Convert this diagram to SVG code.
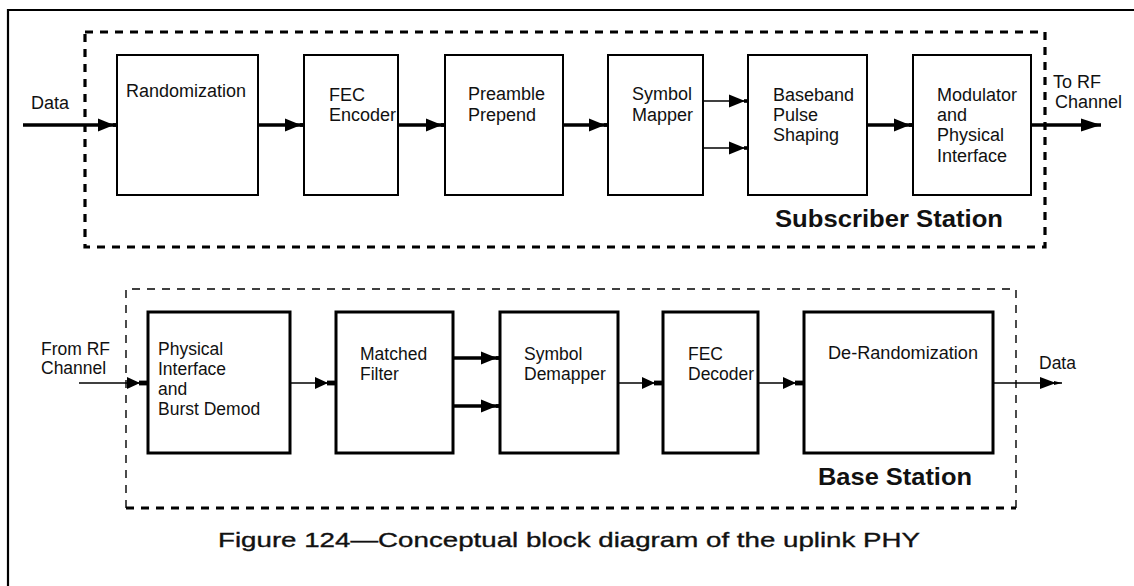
<svg xmlns="http://www.w3.org/2000/svg" width="1134" height="586" viewBox="0 0 1134 586">
  <style>
    .bg { fill: #ffffff; }
    .frame { fill: none; stroke: #000; stroke-width: 2.2; }
    .grpT { fill: none; stroke: #000; stroke-width: 3.2; stroke-dasharray: 8 7; }
    .grpThin { fill: none; stroke: #000; stroke-width: 1.4; stroke-dasharray: 8 7; }
    .grpThick { fill: none; stroke: #000; stroke-width: 3.2; stroke-dasharray: 8 7; }
    .boxT { fill: #fff; stroke: #000; stroke-width: 2; }
    .boxB { fill: #fff; stroke: #000; stroke-width: 3; }
    .lnThick { fill: none; stroke: #000; stroke-width: 3.4; }
    .lnThin { fill: none; stroke: #000; stroke-width: 1.4; }
    text { font-family: "Liberation Sans", Arial, sans-serif; fill: #111; }
    .lblT { font-size: 18px; }
    .lblB { font-size: 17.5px; }
    .station { font-size: 24px; font-weight: bold; }
    .caption { font-size: 21px; stroke: #111; stroke-width: 0.35; }
  </style>
  <defs>
    <marker id="mT" markerUnits="userSpaceOnUse" viewBox="-22 -8 24 16" markerWidth="24" markerHeight="16" refX="0" refY="0" orient="auto">
      <path d="M-19,-6.5 L-3,0 L-19,6.5 Z" fill="#000"/>
      <rect x="-4" y="-1.8" width="4" height="3.6" fill="#000"/>
    </marker>
    <marker id="mTout" markerUnits="userSpaceOnUse" viewBox="-22 -8 24 16" markerWidth="24" markerHeight="16" refX="0" refY="0" orient="auto">
      <path d="M-20,-6.5 L0,0 L-20,6.5 Z" fill="#000"/>
    </marker>
    <marker id="mB" markerUnits="userSpaceOnUse" viewBox="-24 -8 26 16" markerWidth="26" markerHeight="16" refX="0" refY="0" orient="auto">
      <path d="M-21,-6 L-8,0 L-21,6 Z" fill="#000"/>
      <rect x="-9" y="-2.4" width="9" height="4.8" fill="#000"/>
    </marker>
    <marker id="mBout" markerUnits="userSpaceOnUse" viewBox="-24 -8 26 16" markerWidth="26" markerHeight="16" refX="0" refY="0" orient="auto">
      <path d="M-22,-6 L-6,0 L-22,6 Z" fill="#000"/>
      <path d="M-8,-2 L0,0 L-8,2 Z" fill="#000"/>
    </marker>
  </defs>

  <rect class="bg" x="0" y="0" width="1134" height="586"/>
  <path class="frame" d="M8,592 V10 H1140"/>

  <!-- group boundaries -->
  <g id="subscriber-station">
    <rect class="grpT" x="85" y="32" width="960" height="215"/>
    <text class="station" x="775" y="227" textLength="228" lengthAdjust="spacingAndGlyphs">Subscriber Station</text>
  </g>
  <g id="base-station">
    <path class="grpThin" d="M126,508 V289 H1016 V508"/>
    <path class="grpThick" d="M126,508 H1016"/>
    <text class="station" x="818" y="485" textLength="154" lengthAdjust="spacingAndGlyphs">Base Station</text>
  </g>

  <!-- connectors -->
  <g id="connectors">
    <line class="lnThick" x1="23" y1="125" x2="117" y2="125" marker-end="url(#mT)"/>
    <line class="lnThick" x1="258" y1="125" x2="304" y2="125" marker-end="url(#mT)"/>
    <line class="lnThick" x1="398" y1="125" x2="445" y2="125" marker-end="url(#mT)"/>
    <line class="lnThick" x1="563" y1="125" x2="608" y2="125" marker-end="url(#mT)"/>
    <line class="lnThin" x1="703" y1="101" x2="748" y2="101" marker-end="url(#mT)"/>
    <line class="lnThin" x1="703" y1="148" x2="748" y2="148" marker-end="url(#mT)"/>
    <line class="lnThick" x1="867" y1="125" x2="913" y2="125" marker-end="url(#mT)"/>
    <line class="lnThick" x1="1031" y1="125" x2="1101" y2="125" marker-end="url(#mTout)"/>

    <line class="lnThin" x1="79" y1="383" x2="148" y2="383" marker-end="url(#mB)"/>
    <line class="lnThin" x1="290" y1="383" x2="336" y2="383" marker-end="url(#mB)"/>
    <line class="lnThick" x1="453" y1="358" x2="500" y2="358" marker-end="url(#mT)"/>
    <line class="lnThick" x1="453" y1="406" x2="500" y2="406" marker-end="url(#mT)"/>
    <line class="lnThin" x1="618" y1="383" x2="663" y2="383" marker-end="url(#mB)"/>
    <line class="lnThin" x1="758" y1="383" x2="804" y2="383" marker-end="url(#mB)"/>
    <line class="lnThin" x1="993" y1="383" x2="1062" y2="383" marker-end="url(#mBout)"/>
  </g>

  <!-- external labels -->
  <g id="label-data-in">
    <text class="lblT" x="31" y="109">Data</text>
  </g>
  <g id="label-to-rf">
    <text class="lblT" x="1053" y="88">To RF</text>
    <text class="lblT" x="1055" y="108">Channel</text>
  </g>
  <g id="label-from-rf">
    <text class="lblB" x="41" y="355">From RF</text>
    <text class="lblB" x="41" y="374">Channel</text>
  </g>
  <g id="label-data-out">
    <text class="lblB" x="1039" y="369">Data</text>
  </g>

  <!-- top row nodes -->
  <g id="randomization">
    <rect class="boxT" x="117" y="55" width="141" height="140"/>
    <text class="lblT" x="126" y="97">Randomization</text>
  </g>
  <g id="fec-encoder">
    <rect class="boxT" x="304" y="55" width="94" height="140"/>
    <text class="lblT" x="329" y="101">FEC</text>
    <text class="lblT" x="329" y="121">Encoder</text>
  </g>
  <g id="preamble-prepend">
    <rect class="boxT" x="445" y="55" width="118" height="140"/>
    <text class="lblT" x="468" y="100">Preamble</text>
    <text class="lblT" x="468" y="121">Prepend</text>
  </g>
  <g id="symbol-mapper">
    <rect class="boxT" x="608" y="55" width="95" height="140"/>
    <text class="lblT" x="632" y="100">Symbol</text>
    <text class="lblT" x="632" y="121">Mapper</text>
  </g>
  <g id="baseband-pulse-shaping">
    <rect class="boxT" x="748" y="55" width="119" height="140"/>
    <text class="lblT" x="773" y="101">Baseband</text>
    <text class="lblT" x="773" y="121">Pulse</text>
    <text class="lblT" x="773" y="141">Shaping</text>
  </g>
  <g id="modulator-physical-interface">
    <rect class="boxT" x="913" y="55" width="118" height="140"/>
    <text class="lblT" x="937" y="101">Modulator</text>
    <text class="lblT" x="937" y="121">and</text>
    <text class="lblT" x="937" y="141">Physical</text>
    <text class="lblT" x="937" y="162">Interface</text>
  </g>

  <!-- bottom row nodes -->
  <g id="physical-interface-burst-demod">
    <rect class="boxB" x="148" y="312" width="142" height="141"/>
    <text class="lblB" x="158" y="355">Physical</text>
    <text class="lblB" x="158" y="375">Interface</text>
    <text class="lblB" x="158" y="395">and</text>
    <text class="lblB" x="158" y="415">Burst Demod</text>
  </g>
  <g id="matched-filter">
    <rect class="boxB" x="336" y="312" width="117" height="141"/>
    <text class="lblB" x="360" y="360">Matched</text>
    <text class="lblB" x="360" y="380">Filter</text>
  </g>
  <g id="symbol-demapper">
    <rect class="boxB" x="500" y="312" width="118" height="141"/>
    <text class="lblB" x="524" y="360">Symbol</text>
    <text class="lblB" x="524" y="380">Demapper</text>
  </g>
  <g id="fec-decoder">
    <rect class="boxB" x="663" y="312" width="95" height="141"/>
    <text class="lblB" x="688" y="360">FEC</text>
    <text class="lblB" x="688" y="380">Decoder</text>
  </g>
  <g id="de-randomization">
    <rect class="boxB" x="804" y="312" width="189" height="141"/>
    <text class="lblB" x="828" y="359" textLength="150" lengthAdjust="spacingAndGlyphs">De-Randomization</text>
  </g>

  <g id="caption">
    <text class="caption" x="218" y="547" textLength="702" lengthAdjust="spacingAndGlyphs">Figure 124—Conceptual block diagram of the uplink PHY</text>
  </g>
</svg>
